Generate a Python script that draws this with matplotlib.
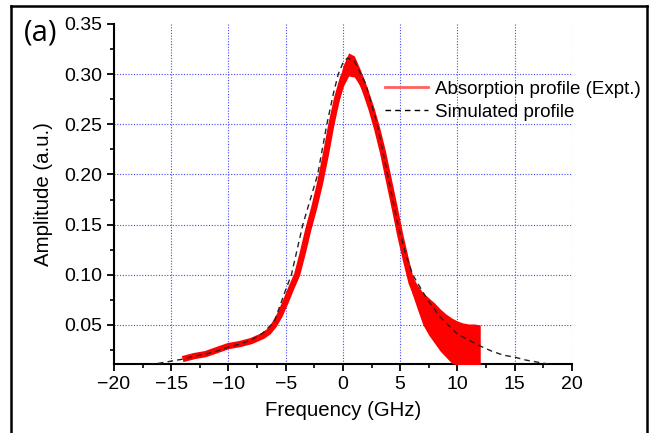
import matplotlib
matplotlib.use('Agg')
import matplotlib.pyplot as plt
from matplotlib.lines import Line2D
from matplotlib.ticker import MultipleLocator
import numpy as np

plt.rcParams['font.family'] = ['Liberation Sans', 'DejaVu Sans']

# measured absorption profile (centre of the noisy trace)
expt_x = [-14, -13, -12, -11, -10, -9, -8, -7, -6.5, -6, -5.5, -5, -4.5, -4, -3.5, -3,
          -2.5, -2, -1.5, -1, -0.5, 0, 0.5, 1, 1.5, 2, 2.5, 3, 3.5, 4, 4.5, 5, 5.5,
          6, 6.5, 7, 7.5, 8, 8.5, 9, 9.5, 10, 10.5, 11, 11.5, 12]
expt_y = [0.016, 0.019, 0.021, 0.025, 0.029, 0.031, 0.034, 0.039, 0.043, 0.050, 0.060,
          0.073, 0.087, 0.100, 0.122, 0.146, 0.167, 0.191, 0.219, 0.250, 0.276, 0.296,
          0.308, 0.307, 0.297, 0.282, 0.265, 0.245, 0.222, 0.195, 0.168, 0.140, 0.115,
          0.092, 0.078, 0.064, 0.057, 0.050, 0.044, 0.039, 0.035, 0.032, 0.031, 0.030,
          0.030, 0.030]

# noise envelope of the trace on the right-hand tail
tail_x = [5.5, 6, 6.5, 7, 7.5, 8, 8.5, 9, 9.5, 10, 10.5, 11, 11.5, 12]
tail_lo = [0.106, 0.083, 0.066, 0.050, 0.040, 0.032, 0.024, 0.018, 0.012, 0.010, 0.010,
           0.010, 0.010, 0.010]
tail_hi = [0.125, 0.100, 0.090, 0.082, 0.077, 0.072, 0.066, 0.061, 0.057, 0.054, 0.052,
           0.051, 0.051, 0.050]

# noise around the peak
peak_x = [-0.5, 0, 0.5, 1, 1.5, 2]
peak_lo = [0.268, 0.287, 0.298, 0.297, 0.288, 0.274]
peak_hi = [0.284, 0.308, 0.321, 0.318, 0.305, 0.290]

# simulated profile
sim_x = [-17, -16, -15, -14, -13, -12, -11, -10, -9, -8, -7, -6, -5, -4.5, -3.5, -2.2,
         -1.4, -0.8, -0.4, 0, 0.4, 1, 2, 3, 3.9, 4.8, 5.5, 6.1, 7.4, 8.5, 9.2, 10, 11, 12,
         13, 14, 15, 16, 17, 18]
sim_y = [0.0105, 0.012, 0.014, 0.016, 0.019, 0.021, 0.024, 0.028, 0.031, 0.035, 0.042,
         0.053, 0.085, 0.100, 0.150, 0.200, 0.250, 0.282, 0.300, 0.311, 0.316, 0.313,
         0.290, 0.250, 0.200, 0.150, 0.120, 0.100, 0.075, 0.058, 0.050, 0.041, 0.035,
         0.029, 0.024, 0.020, 0.018, 0.015, 0.013, 0.011]

fig = plt.figure(figsize=(6.55, 4.33), dpi=100)
ax = fig.add_axes([0.174, 0.159, 0.699, 0.786])

ax.fill_between(tail_x, tail_lo, tail_hi, color='red', lw=0, zorder=3)
ax.fill_between(peak_x, peak_lo, peak_hi, color='red', lw=0, zorder=3)
ax.plot(expt_x, expt_y, color='red', lw=4.5, solid_capstyle='butt', zorder=3)
ax.plot(sim_x, sim_y, color='#222222', lw=1, ls=(0, (4, 3)), zorder=4)

# legend handles
h1 = Line2D([], [], color='#ff6060', lw=2)
h2 = Line2D([], [], color='black', lw=1, ls=(0, (4, 3)))
ax.legend([h1, h2], ['Absorption profile (Expt.)', 'Simulated profile'],
          loc='upper left', bbox_to_anchor=(0.575, 0.855), frameon=False,
          fontsize=13.5, handlelength=2.3, handletextpad=0.4, labelspacing=0.3,
          borderaxespad=0)

ax.set_xlim(-20, 20)
ax.set_ylim(0.011, 0.35)
ax.xaxis.set_major_locator(MultipleLocator(5))
ax.xaxis.set_minor_locator(MultipleLocator(2.5))
ax.yaxis.set_minor_locator(MultipleLocator(0.025))
ax.set_yticks([0.05, 0.10, 0.15, 0.20, 0.25, 0.30, 0.35])
ax.set_yticklabels(['0.05', '0.10', '0.15', '0.20', '0.25', '0.30', '0.35'])

ax.grid(True, which='major', color='#3333ff', ls=(0, (1, 1.5)), lw=0.8, alpha=0.9)
for t in ax.xaxis.get_major_ticks():
    if abs(t.get_loc()) >= 20:
        t.gridline.set_visible(False)
for t in ax.yaxis.get_major_ticks():
    if t.get_loc() >= 0.349:
        t.gridline.set_visible(False)

for s in ['top', 'right']:
    ax.spines[s].set_visible(False)
for s in ['left', 'bottom']:
    ax.spines[s].set_linewidth(1.5)
ax.tick_params(which='major', direction='out', length=5, width=1.3, labelsize=14)
ax.tick_params(which='minor', direction='out', length=3, width=1.2)

ax.set_xlabel('Frequency (GHz)', fontsize=14.7, labelpad=6)
ax.set_ylabel('Amplitude (a.u.)', fontsize=14.7, labelpad=8)

fig.text(0.036, 0.906, '(a)', fontsize=21, family=['Open Sans', 'DejaVu Sans'])

# outer frame
fig.add_artist(Line2D([0.017, 0.017], [0.0, 0.987], color='black', lw=1.8,
                      transform=fig.transFigure))
fig.add_artist(Line2D([0.017, 0.988], [0.987, 0.987], color='black', lw=1.8,
                      transform=fig.transFigure))
fig.add_artist(Line2D([0.988, 0.988], [0.0, 0.987], color='black', lw=1.8,
                      transform=fig.transFigure))

fig.savefig('out.png', dpi=100)
